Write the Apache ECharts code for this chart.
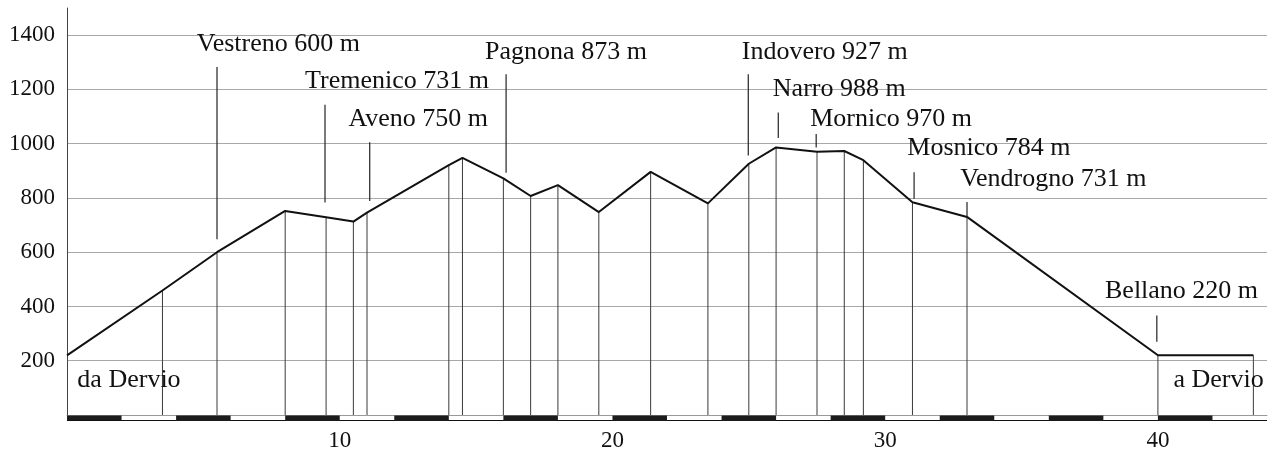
<!DOCTYPE html>
<html>
<head>
<meta charset="utf-8">
<script src="https://cdn.jsdelivr.net/npm/echarts@6/dist/echarts.min.js"></script>
<style>
html,body{margin:0;padding:0;background:#fff;}
#chart{width:1280px;height:452px;}
</style>
</head>
<body>
<div id="chart"></div>
<script>
// Profile (km, metres)
const profileKm   = [0, 3.5, 5.5, 8.0, 9.5, 10.5, 11.0, 14.0, 14.5, 16.0, 17.0, 18.0, 19.5, 21.4, 23.5, 25.0, 26.0, 27.5, 28.5, 29.2, 31.0, 33.0, 40.0, 43.5];
const profileElev = [220, 459, 600, 752, 729, 713, 746, 921, 948, 872, 807, 847, 748, 896, 780, 926, 986, 970, 973, 939, 784, 730, 220, 220];

// Place labels
const placeNames   = ['Vestreno 600 m', 'Tremenico 731 m', 'Aveno 750 m', 'Pagnona 873 m', 'Indovero 927 m', 'Narro 988 m', 'Mornico 970 m', 'Mosnico 784 m', 'Vendrogno 731 m', 'Bellano 220 m'];
const placeTextKm  = [4.76, 8.73, 10.32, 15.33, 24.74, 25.88, 27.25, 30.81, 32.75, 38.06];
const placeTextAlt = [1338, 1200, 1063, 1310, 1310, 1173, 1063, 953, 841, 429];
const leaderKm     = [5.5, 9.46, 11.1, 16.1, 24.98, 26.08, 27.47, 31.06, 33.0, 39.96];
const leaderTop    = [1283, 1143, 1005, 1256, 1256, 1115, 1036, 895, 785, 367];
const leaderBottom = [648, 783, 789, 893, 956, 1021, 986, 797, 728, 270];

// Start / end labels
const endNames = ['da Dervio', 'a Dervio'];
const endKm    = [0.38, 40.57];
const endAlt   = [99, 99];

// Distance scale bar (black segments, km)
const scaleStart = [0, 4, 8, 12, 16, 20, 24, 28, 32, 36, 40];
const scaleLen   = 2;

// Axis ticks
const xTicks = [10, 20, 30, 40];
const yTicks = [200, 400, 600, 800, 1000, 1200, 1400];

const FONT = '"Liberation Serif", "Times New Roman", serif';
const LABEL_FS = 26;
const TICK_FS = 23;

const profileData = profileKm.map((k, i) => [k, profileElev[i]]);
const placeData = placeNames.map((n, i) => [placeTextKm[i], placeTextAlt[i], leaderKm[i], leaderTop[i], leaderBottom[i], n]);
const endData = endNames.map((n, i) => [endKm[i], endAlt[i], n]);
const scaleData = scaleStart.map(s => [s, s + scaleLen]);

const chart = echarts.init(document.getElementById('chart'), null, {renderer: 'canvas'});
chart.setOption({
  animation: false,
  backgroundColor: '#ffffff',
  grid: {left: 67, right: 13, top: 8, bottom: 35},
  xAxis: {
    type: 'value', min: 0, max: 44, interval: 10,
    axisLine: {show: true, lineStyle: {color: '#999', width: 1}},
    axisTick: {show: false},
    splitLine: {show: false},
    axisLabel: {
      margin: 14, color: '#111', fontFamily: FONT, fontSize: TICK_FS,
      formatter: v => (xTicks.indexOf(v) >= 0 ? String(v) : '')
    }
  },
  yAxis: {
    type: 'value', min: 0, max: 1500, interval: 200,
    axisLine: {show: true, lineStyle: {color: '#444', width: 1}},
    axisTick: {show: false},
    splitLine: {show: true, showMinLine: false, showMaxLine: false, lineStyle: {color: '#a8a8a8', width: 1}},
    axisLabel: {
      margin: 12, color: '#111', fontFamily: FONT, fontSize: TICK_FS,
      formatter: v => (yTicks.indexOf(v) >= 0 ? String(v) : '')
    }
  },
  series: [
    {
      // drop lines
      type: 'custom', clip: false, z: 2,
      data: profileData,
      renderItem: (params, api) => {
        const k = api.value(0), e = api.value(1);
        if (k === 0) return {type: 'group', children: []};
        const top = api.coord([k, e]);
        const bot = api.coord([k, 0]);
        return {type: 'line', shape: {x1: top[0], y1: top[1], x2: bot[0], y2: bot[1]},
          style: {stroke: '#3a3a3a', lineWidth: 1}};
      }
    },
    {
      type: 'line', z: 3,
      data: profileData,
      symbol: 'none',
      lineStyle: {color: '#111', width: 2},
      silent: true
    },
    {
      // place labels + leader lines
      type: 'custom', clip: false, z: 4,
      data: placeData,
      renderItem: (params, api) => {
        const t = api.coord([api.value(0), api.value(1)]);
        const lt = api.coord([api.value(2), api.value(3)]);
        const lb = api.coord([api.value(2), api.value(4)]);
        const name = placeNames[params.dataIndex];
        return {type: 'group', children: [
          {type: 'line', shape: {x1: lt[0], y1: lt[1], x2: lb[0], y2: lb[1]}, style: {stroke: '#222', lineWidth: 1.2}},
          {type: 'text', x: t[0], y: t[1] - 0.3 * LABEL_FS,
            style: {text: name, fill: '#111', font: LABEL_FS + 'px ' + FONT, align: 'left', verticalAlign: 'middle'}}
        ]};
      }
    },
    {
      type: 'custom', clip: false, z: 4,
      data: endData,
      renderItem: (params, api) => {
        const t = api.coord([api.value(0), api.value(1)]);
        return {type: 'text', x: t[0], y: t[1] - 0.3 * LABEL_FS,
          style: {text: endNames[params.dataIndex], fill: '#111', font: LABEL_FS + 'px ' + FONT, align: 'left', verticalAlign: 'middle'}};
      }
    },
    {
      // scale bar
      type: 'custom', clip: false, z: 5,
      data: scaleData,
      renderItem: (params, api) => {
        const a = api.coord([api.value(0), 0]);
        const b = api.coord([api.value(1), 0]);
        const children = [
          {type: 'rect', shape: {x: a[0], y: a[1] + 0.5, width: b[0] - a[0], height: 5.5}, style: {fill: '#1c1c1c'}}
        ];
        if (params.dataIndex === 0) {
          const s = api.coord([0, 0]);
          const e = api.coord([44, 0]);
          children.push({type: 'line', shape: {x1: s[0], y1: s[1] + 5.5, x2: e[0], y2: e[1] + 5.5}, style: {stroke: '#111', lineWidth: 1}});
        }
        return {type: 'group', children: children};
      }
    }
  ]
});
</script>
</body>
</html>
